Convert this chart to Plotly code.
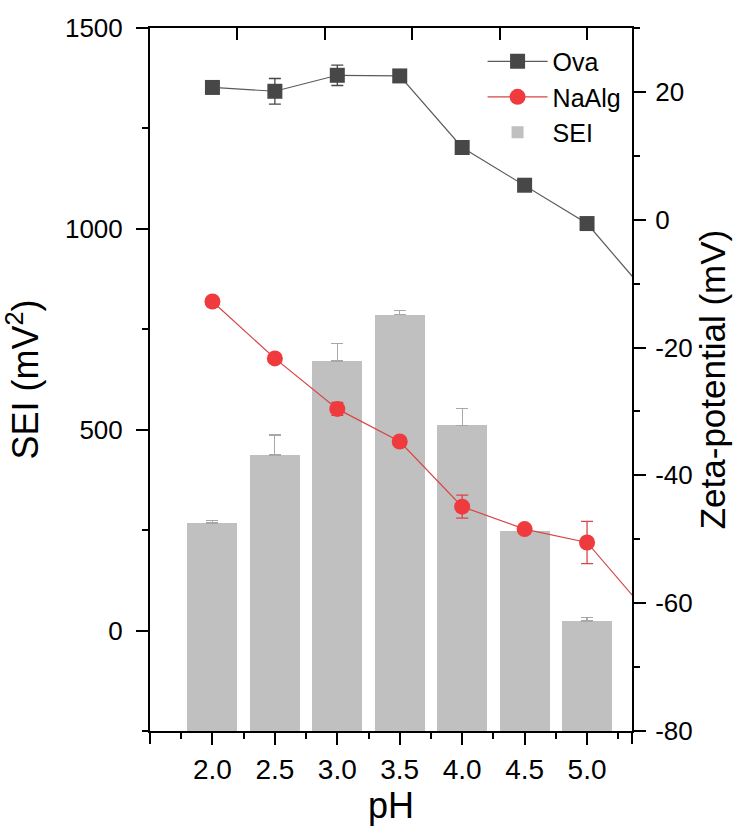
import plotly.graph_objects as go

# pH values of the measurement series
ph = [2.0, 2.5, 3.0, 3.5, 4.0, 4.5, 5.0]
ph_tick_text = ["2.0", "2.5", "3.0", "3.5", "4.0", "4.5", "5.0"]

# Surface energy index (left axis)
sei = [268, 437, 671, 786, 511, 248, 24]
sei_err = [6, 50, 43, 11, 41, 3, 9]

# Zeta potential (right axis); the last point (pH 5.5) lies beyond the shown range
ph_zeta = [2.0, 2.5, 3.0, 3.5, 4.0, 4.5, 5.0, 5.5]
ova_zeta = [20.7, 20.1, 22.6, 22.5, 11.3, 5.4, -0.6, -12.0]
ova_err = [0, 2.0, 1.6, 0, 0, 0, 0, 0]
naalg_zeta = [-12.8, -21.7, -29.6, -34.7, -44.9, -48.4, -50.5, -61.9]
naalg_err = [0, 0, 1.0, 0, 1.8, 0, 3.3, 0]

# Axis limits and tick labels
X_RANGE = [1.5, 5.36]
SEI_RANGE = [-250, 1500]
SEI_TICKS = [0, 500, 1000, 1500]
ZETA_RANGE = [-80, 30]
ZETA_TICKS = [-80, -60, -40, -20, 0, 20]
ZETA_TICK_TEXT = ["-80", "-60", "-40", "-20", "0", "20"]

FONT = "Arial, Liberation Sans, sans-serif"

fig = go.Figure()

# Bars rise from the bottom of the left axis
fig.add_trace(go.Bar(
    x=ph, y=[v - SEI_RANGE[0] for v in sei], base=SEI_RANGE[0],
    width=0.4, name="SEI", legendrank=3,
    marker=dict(color="#c0c0c0", line=dict(width=0)),
    error_y=dict(type="data", symmetric=False, array=sei_err,
                 arrayminus=[0] * len(sei_err),
                 color="#a8a8a8", thickness=1.2, width=6),
    xaxis="x", yaxis="y",
))

fig.add_trace(go.Scatter(
    x=ph_zeta, y=ova_zeta, name="Ova", legendrank=1,
    mode="lines+markers",
    line=dict(color="#5a5a5a", width=1.2),
    marker=dict(symbol="square", size=15, color="#474747"),
    error_y=dict(type="data", array=ova_err, color="#474747",
                 thickness=1.3, width=6),
    xaxis="x", yaxis="y2",
))

fig.add_trace(go.Scatter(
    x=ph_zeta, y=naalg_zeta, name="NaAlg", legendrank=2,
    mode="lines+markers",
    line=dict(color="#d84545", width=1.2),
    marker=dict(symbol="circle", size=16, color="#ef3a3e"),
    error_y=dict(type="data", array=naalg_err, color="#d84545",
                 thickness=1.3, width=6),
    xaxis="x", yaxis="y2",
))

# Empty traces so the extra tick-only axes are rendered
fig.add_trace(go.Scatter(x=[], y=[], xaxis="x2", yaxis="y", showlegend=False,
                         hoverinfo="skip"))
fig.add_trace(go.Scatter(x=[], y=[], xaxis="x3", yaxis="y", showlegend=False,
                         hoverinfo="skip"))

axis_common = dict(showline=True, linecolor="black", linewidth=2,
                   showgrid=False, zeroline=False, tickcolor="black",
                   tickwidth=2)

fig.update_layout(
    width=749, height=839,
    margin=dict(l=150, r=117, t=28, b=108),
    plot_bgcolor="white", paper_bgcolor="white",
    font=dict(family=FONT, color="black"),
    bargap=0,
    xaxis=dict(
        **axis_common,
        range=X_RANGE,
        tickmode="array", tickvals=ph, ticktext=ph_tick_text,
        tickfont=dict(family=FONT, size=28, color="black"),
        ticks="outside", ticklen=12,
        minor=dict(tickmode="array",
                   tickvals=[1.75, 2.25, 2.75, 3.25, 3.75, 4.25, 4.75, 5.25],
                   ticks="outside", ticklen=6, tickwidth=2, tickcolor="black"),
        title=dict(text="pH", font=dict(family=FONT, size=36), standoff=8),
    ),
    # inward ticks along the top frame
    xaxis2=dict(
        overlaying="x", side="top", range=X_RANGE,
        showline=True, linecolor="black", linewidth=2,
        showgrid=False, zeroline=False,
        tickmode="array", tickvals=[2.2, 2.9, 3.6, 4.3, 5.0],
        showticklabels=False, ticks="inside", ticklen=12,
        tickwidth=2, tickcolor="black",
    ),
    # long ticks at both ends of the bottom axis
    xaxis3=dict(
        overlaying="x", side="bottom", range=X_RANGE,
        showline=False, showgrid=False, zeroline=False,
        tickmode="array", tickvals=X_RANGE,
        showticklabels=False, ticks="outside", ticklen=12,
        tickwidth=2, tickcolor="black",
    ),
    yaxis=dict(
        **axis_common,
        range=SEI_RANGE,
        tickmode="array", tickvals=SEI_TICKS,
        tickfont=dict(family=FONT, size=26, color="black"),
        ticklabelstandoff=8,
        ticks="outside", ticklen=12,
        minor=dict(tickmode="array", tickvals=[-250, 250, 750, 1250],
                   ticks="outside", ticklen=6, tickwidth=2, tickcolor="black"),
        title=dict(text="SEI (mV<sup>2</sup>)", font=dict(family=FONT, size=36),
                   standoff=16),
    ),
    yaxis2=dict(
        **axis_common,
        overlaying="y", side="right", anchor="x",
        range=ZETA_RANGE,
        tickmode="array", tickvals=ZETA_TICKS, ticktext=ZETA_TICK_TEXT,
        tickfont=dict(family=FONT, size=26, color="black"),
        ticklabelstandoff=4,
        ticks="outside", ticklen=12,
        minor=dict(tickmode="array", tickvals=[-70, -50, -30, -10, 10, 30],
                   ticks="outside", ticklen=6, tickwidth=2, tickcolor="black"),
        title=dict(text="Zeta-potential (mV)", font=dict(family=FONT, size=35),
                   standoff=8),
    ),
    legend=dict(
        x=0.69, y=0.985, xanchor="left", yanchor="top",
        bgcolor="rgba(0,0,0,0)", borderwidth=0,
        font=dict(family=FONT, size=25, color="black"),
        itemwidth=60, tracegroupgap=4,
    ),
    showlegend=True,
)

fig.write_html("out.html")
